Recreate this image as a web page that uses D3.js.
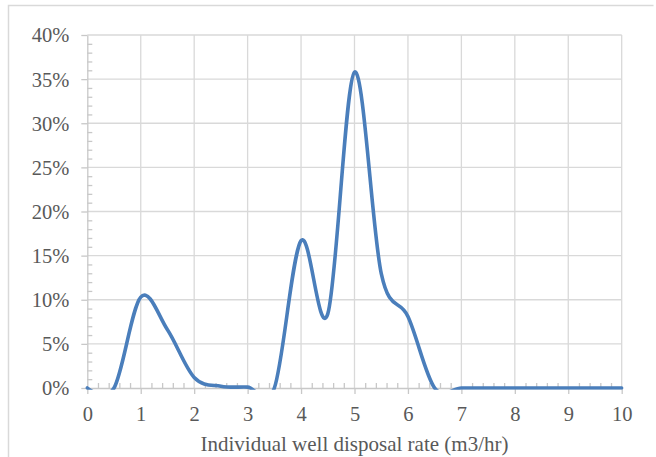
<!DOCTYPE html>
<html>
<head>
<meta charset="utf-8">
<script src="https://cdn.jsdelivr.net/npm/d3@7/dist/d3.min.js"></script>
<style>
  html, body { margin: 0; padding: 0; background: #fff; }
  svg { display: block; }
  text { font-family: "Liberation Serif", "Times New Roman", serif; fill: #595959; }
</style>
</head>
<body>
<svg id="chart" width="656" height="457"></svg>
<script>
// Disposal rate (m3/hr) and share of wells at each rate
const rates = [0, 0.5, 1, 1.5, 2, 2.5, 3, 3.5, 4, 4.5, 5, 5.5, 6, 6.5, 7, 7.5, 8, 8.5, 9, 9.5, 10];
const shares = [0, 0, 10.3, 6.6, 1.2, 0.2, 0.1, 0, 16.7, 8.4, 35.8, 13.0, 8.1, 0, 0, 0, 0, 0, 0, 0, 0];
const xTicks = [0, 1, 2, 3, 4, 5, 6, 7, 8, 9, 10];
const yTicks = [0, 5, 10, 15, 20, 25, 30, 35, 40];
const xTitle = "Individual well disposal rate (m3/hr)";

const svg = d3.select("#chart");
const plotLeft = 87.3, plotRight = 621.7, plotTop = 35, plotBottom = 388;

const x = d3.scaleLinear().domain([0, 10]).range([plotLeft, plotRight]);
const y = d3.scaleLinear().domain([0, 40]).range([plotBottom, plotTop]);

// outer chart frame
svg.append("path")
  .attr("d", `M8.5,470 V5.5 H653.5`)
  .attr("fill", "none").attr("stroke", "#d9d9d9").attr("stroke-width", 1.5);

// gridlines
const grid = svg.append("g").attr("stroke", "#d9d9d9").attr("stroke-width", 1.3);
grid.selectAll("line.h").data(yTicks.slice(1)).join("line")
  .attr("class", "h")
  .attr("x1", plotLeft).attr("x2", plotRight)
  .attr("y1", d => y(d)).attr("y2", d => y(d));
grid.selectAll("line.v").data(xTicks.slice(1)).join("line")
  .attr("class", "v")
  .attr("y1", plotTop).attr("y2", plotBottom)
  .attr("x1", d => x(d)).attr("x2", d => x(d));

// y axis: major ticks outside, minor ticks inside
const yAxis = svg.append("g").attr("transform", `translate(${plotLeft},0)`)
  .call(d3.axisLeft(y).tickValues(yTicks).tickSize(6).tickSizeOuter(0).tickPadding(12)
    .tickFormat(d => d + "%"));
const yMinor = svg.append("g").attr("transform", `translate(${plotLeft},0)`)
  .call(d3.axisRight(y).tickValues(d3.range(0, 41, 1).filter(v => v % 5 !== 0))
    .tickSize(5).tickSizeOuter(0).tickFormat(""));

// x axis: major ticks outside, minor ticks inside
const xAxis = svg.append("g").attr("transform", `translate(0,${plotBottom})`)
  .call(d3.axisBottom(x).tickValues(xTicks).tickSize(6).tickSizeOuter(0).tickPadding(12)
    .tickFormat(d3.format("d")));
const xMinor = svg.append("g").attr("transform", `translate(0,${plotBottom})`)
  .call(d3.axisTop(x).tickValues(d3.range(0, 50, 1).map(i => i / 5).filter(v => Math.abs(v - Math.round(v)) > 1e-6))
    .tickSize(5).tickSizeOuter(0).tickFormat(""));

[yAxis, yMinor, xAxis, xMinor].forEach(g => {
  g.selectAll(".domain").attr("stroke", "#c8c8c8").attr("stroke-width", 1.3);
  g.selectAll(".tick line").attr("stroke", "#c8c8c8").attr("stroke-width", 1.3);
});
yMinor.select(".domain").remove();
xMinor.select(".domain").remove();
yAxis.selectAll(".tick text").attr("font-size", "20.5px").attr("fill", "#595959")
  .attr("dy", "0.34em");
xAxis.selectAll(".tick text").attr("font-size", "20.5px").attr("fill", "#595959")
  .attr("dy", "0.71em");
svg.selectAll(".tick text").attr("font-family", "Liberation Serif");

// axis title
svg.append("text")
  .attr("x", (plotLeft + plotRight) / 2).attr("y", 451)
  .attr("text-anchor", "middle")
  .attr("font-size", "21px")
  .text(xTitle);

// smoothed distribution line, clipped to the plot area
svg.append("clipPath").attr("id", "plotClip")
  .append("rect").attr("x", plotLeft - 2).attr("y", plotTop - 2)
  .attr("width", plotRight - plotLeft + 4).attr("height", plotBottom - plotTop + 3.8);

const line = d3.line()
  .x((d, i) => x(rates[i]))
  .y(d => y(d))
  .curve(d3.curveCardinal.tension(0));

svg.append("path")
  .datum(shares)
  .attr("clip-path", "url(#plotClip)")
  .attr("d", line)
  .attr("fill", "none")
  .attr("stroke", "#4A7EBB")
  .attr("stroke-width", 3.6)
  .attr("stroke-linejoin", "round")
  .attr("stroke-linecap", "round");
</script>
</body>
</html>
